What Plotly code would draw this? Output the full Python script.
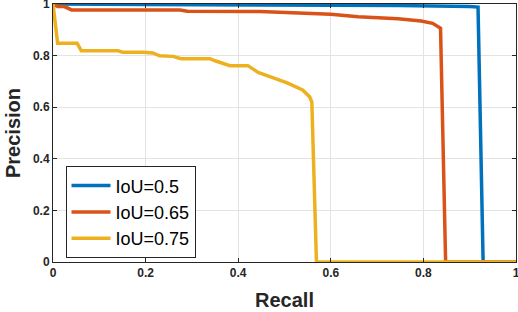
import plotly.graph_objects as go

recall_05 = [0, 0.05, 0.2, 0.45, 0.6, 0.75, 0.9, 0.918, 0.929, 1.0]
precision_05 = [1, 0.999, 0.998, 0.996, 0.996, 0.994, 0.99, 0.988, 0, 0]

recall_065 = [0, 0.01, 0.025, 0.04, 0.274, 0.29, 0.447, 0.543, 0.6, 0.659, 0.745, 0.795, 0.82, 0.837, 0.848, 1.0]
precision_065 = [1, 0.99, 0.99, 0.977, 0.977, 0.972, 0.971, 0.965, 0.96, 0.951, 0.943, 0.934, 0.925, 0.906, 0, 0]

recall_075 = [0, 0.01, 0.052, 0.061, 0.14, 0.15, 0.194, 0.216, 0.23, 0.259, 0.277, 0.339, 0.35,
              0.382, 0.421, 0.443, 0.479, 0.507, 0.539, 0.554, 0.559, 0.569, 1.0]
precision_075 = [1, 0.848, 0.848, 0.819, 0.819, 0.813, 0.813, 0.81, 0.799, 0.797, 0.788, 0.788, 0.78,
                 0.761, 0.761, 0.735, 0.712, 0.693, 0.667, 0.641, 0.621, 0, 0]

series_names = ["IoU=0.5", "IoU=0.65", "IoU=0.75"]
colors = ["#0072BD", "#D95319", "#EDB120"]
tick_vals = [0, 0.2, 0.4, 0.6, 0.8, 1]
tick_text = ["0", "0.2", "0.4", "0.6", "0.8", "1"]

fig = go.Figure()
for name, xs, ys, c in zip(series_names,
                           [recall_05, recall_065, recall_075],
                           [precision_05, precision_065, precision_075],
                           colors):
    fig.add_trace(go.Scatter(x=xs, y=ys, mode="lines", name=name,
                             line=dict(color=c, width=3.5)))

axis_common = dict(
    range=[0, 1], tickvals=tick_vals, ticktext=tick_text,
    showgrid=True, gridcolor="#e3e3e3", gridwidth=1,
    showline=True, linecolor="#262626", linewidth=1, mirror="ticks",
    ticks="inside", ticklen=4, tickcolor="#262626",
    tickfont=dict(family="Liberation Sans", size=12, color="#262626", weight="bold"),
    zeroline=False, automargin=False, ticklabeloverflow="allow",
)

fig.update_layout(
    width=518, height=312,
    margin=dict(l=53, r=2, t=4, b=50),
    paper_bgcolor="white", plot_bgcolor="white",
    xaxis=dict(**axis_common,
               title=dict(text="Recall", standoff=13,
                          font=dict(family="Liberation Sans", size=20, color="#262626", weight="bold"))),
    yaxis=dict(**axis_common,
               title=dict(text="Precision", standoff=6,
                          font=dict(family="Liberation Sans", size=20, color="#262626", weight="bold"))),
    legend=dict(x=0.027, y=0.371, xanchor="left", yanchor="top", itemwidth=39,
                bgcolor="white", bordercolor="#262626", borderwidth=1,
                font=dict(family="Liberation Sans", size=18, color="#000000")),
    showlegend=True,
)

fig.write_html("out.html", config={"displayModeBar": False},
               post_script="document.body.style.margin='0';")
